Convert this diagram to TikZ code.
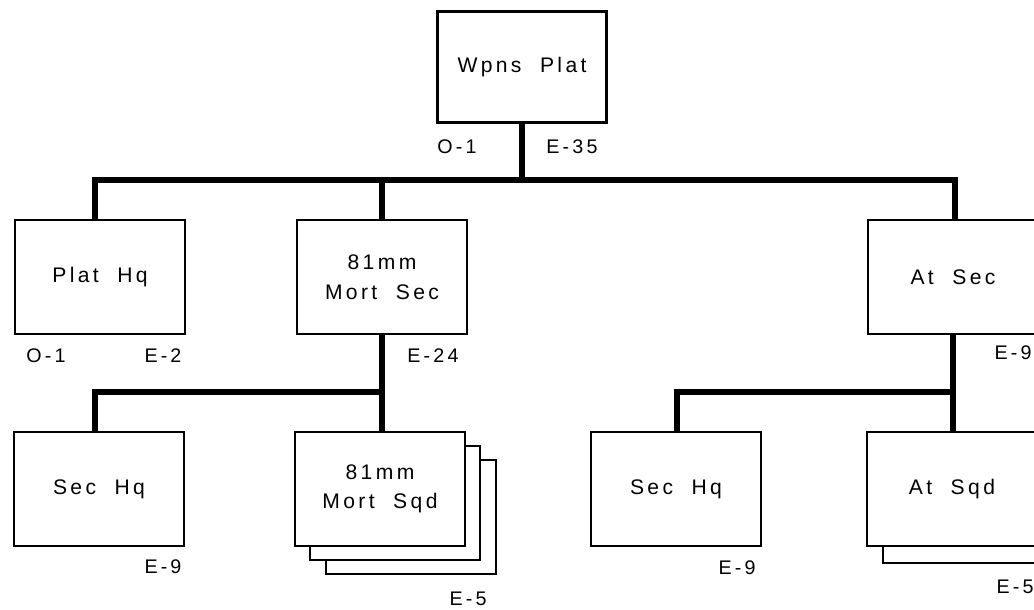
\documentclass[tikz,border=0pt]{standalone}
\usepackage{fontspec}
\setmainfont{Liberation Sans}
\newfontfamily\orgfont[LetterSpace=16, WordSpace=2]{Liberation Sans}

\begin{document}
\begin{tikzpicture}[x=0.025cm, y=-0.025cm,
  unit/.style={draw, line width=1.8pt, fill=white, minimum width=4.25cm, minimum height=2.85cm,
    inner sep=2pt, align=center, font=\orgfont\fontsize{15}{21}\selectfont},
  link/.style={line width=4.2pt, line join=miter},
  strength/.style={font=\orgfont\fontsize{14}{16}\selectfont, inner sep=1pt}]
  \useasboundingbox (0,0) rectangle (1034,610);

  % platoon headquarters
  \node[unit, minimum width=4.225cm, minimum height=2.775cm] (wpns) at (522,67) {Wpns Plat};
  \node[strength] (wpns-o) at (457,147) {O-1};
  \node[strength] (wpns-e) at (572,147) {E-35};

  % sections
  \node[unit] (plathq) at (100,277) {Plat Hq};
  \node[strength] (plathq-o) at (46,356) {O-1};
  \node[strength] (plathq-e) at (163,356) {E-2};
  \node[unit] (mortsec) at (382,277) {81mm\\Mort Sec};
  \node[strength] (mortsec-e) at (433,356) {E-24};
  \node[unit] (atsec) at (953,277) {At Sec};
  \node[strength, anchor=west] (atsec-e) at (993,353) {E-9};

  % mortar section squads
  \node[unit] (sechqa) at (99,489) {Sec Hq};
  \node[strength] (sechqa-e) at (163,567) {E-9};
  \node[unit] (mortsqd-c) at (411,517) {};
  \node[unit] (mortsqd-b) at (395,503) {};
  \node[unit] (mortsqd) at (380,489) {81mm\\Mort Sqd};
  \node[strength] (mortsqd-e) at (468,599) {E-5};

  % antitank section squads
  \node[unit] (sechqb) at (676,489) {Sec Hq};
  \node[strength] (sechqb-e) at (737,568) {E-9};
  \node[unit] (atsqd-b) at (968,506) {};
  \node[unit] (atsqd) at (952,489) {At Sqd};
  \node[strength, anchor=west] (atsqd-e) at (995,587) {E-5};

  % connectors
  \coordinate (busl) at (95,180);
  \coordinate (busr) at (955,180);
  \coordinate (mortbus) at (95,392);
  \coordinate (atbus) at (677,392);
  \draw[link] (wpns) -- (wpns |- busl);
  \draw[link] (busl |- plathq.north) -- (busl) -- (busr) -- (busr |- atsec.north);
  \draw[link] (mortsec) -- (mortsec |- busl);
  \draw[link] (mortsec.south) -- (mortsec.south |- mortsqd.north);
  \draw[link] (mortbus |- sechqa.north) -- (mortbus) -- (mortbus -| mortsec.south);
  \draw[link] (atsec.south) -- (atsec.south |- atsqd.north);
  \draw[link] (atbus |- sechqb.north) -- (atbus) -- (atbus -| atsec.south);
\end{tikzpicture}
\end{document}
